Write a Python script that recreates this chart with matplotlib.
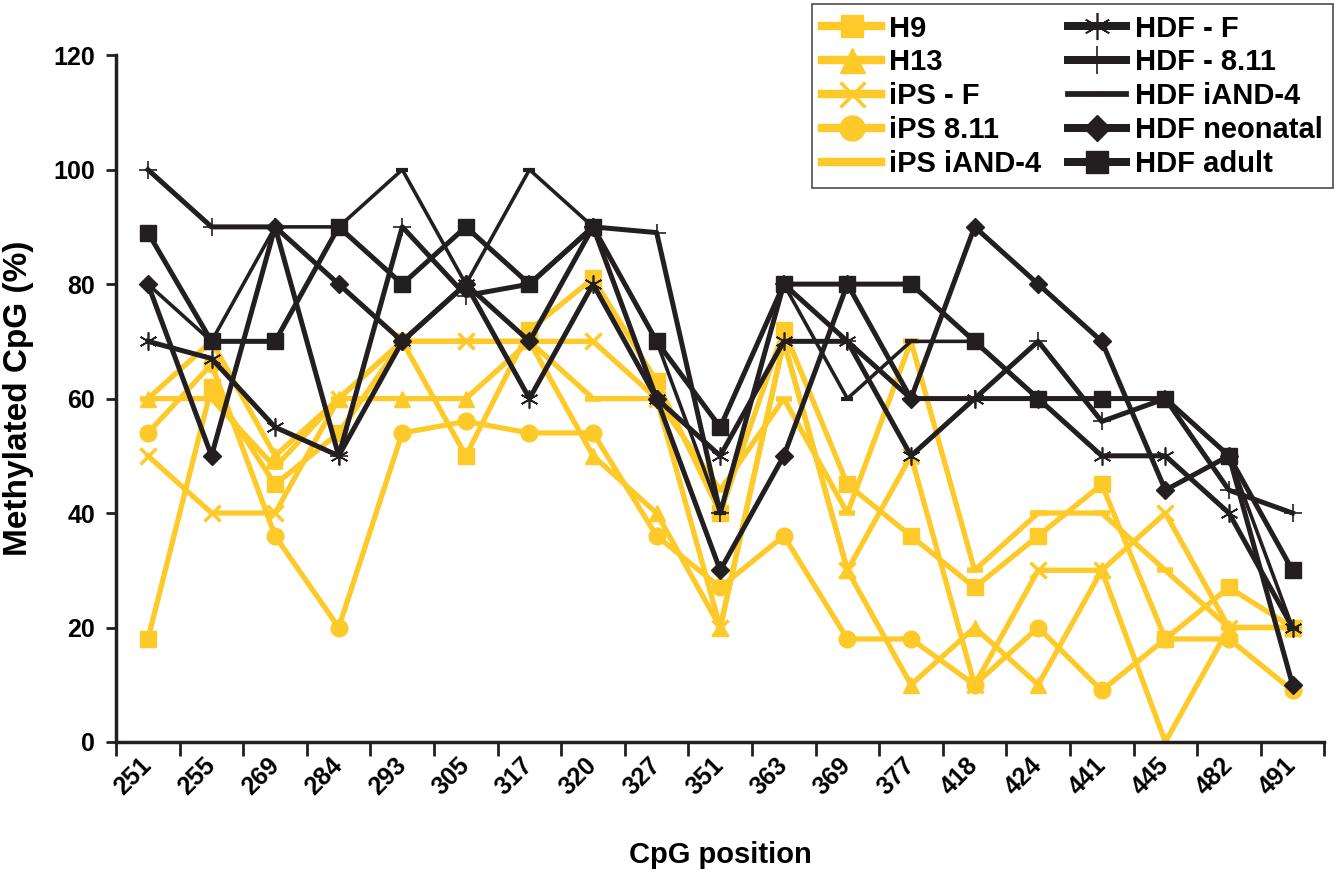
import matplotlib
matplotlib.use("Agg")
import matplotlib.pyplot as plt
from matplotlib.transforms import ScaledTranslation

plt.rcParams['font.family'] = ['Liberation Sans', 'DejaVu Sans']
plt.rcParams['font.weight'] = 'bold'

positions = ['251', '255', '269', '284', '293', '305', '317', '320', '327', '351',
             '363', '369', '377', '418', '424', '441', '445', '482', '491']

h9 = [18, 62, 45, 54, 70, 50, 72, 81, 63, 40, 72, 45, 36, 27, 36, 45, 18, 27, 20]
h13 = [60, 70, 50, 60, 60, 60, 70, 50, 40, 20, 70, 30, 10, 20, 10, 30, 0, 20, 20]
ips_f = [50, 40, 40, 60, 70, 70, 70, 70, 60, 20, 70, 30, 50, 10, 30, 30, 40, 20, 20]
ips_811 = [54, 66, 36, 20, 54, 56, 54, 54, 36, 27, 36, 18, 18, 10, 20, 9, 18, 18, 9]
ips_iand4 = [60, 60, 48, 60, 70, 70, 70, 60, 60, 44, 60, 40, 70, 30, 40, 40, 30, 20, 20]

hdf_f = [70, 67, 55, 50, 70, 80, 60, 80, 60, 50, 70, 70, 50, 60, 60, 50, 50, 40, 20]
hdf_811 = [100, 90, 90, 50, 90, 78, 80, 90, 89, 40, 80, 70, 60, 60, 70, 56, 60, 44, 40]
hdf_iand4 = [80, 70, 90, 90, 100, 80, 100, 90, 70, 40, 80, 60, 70, 70, 60, 60, 60, 50, 20]
hdf_neo = [80, 50, 90, 80, 70, 80, 70, 90, 60, 30, 50, 80, 60, 90, 80, 70, 44, 50, 10]
hdf_adult = [89, 70, 70, 90, 80, 90, 80, 90, 70, 55, 80, 80, 80, 70, 60, 60, 60, 50, 30]

YELLOW = '#FDCA2A'
BLACK = '#231F20'

fig = plt.figure(figsize=(13.35, 8.76), dpi=100)
ax = fig.add_axes([0.087, 0.153, 0.905, 0.784])

x = list(range(len(positions)))
asterisk = (6, 2, 0)

# yellow: stem cells / iPS
ax.plot(x, h9, color=YELLOW, lw=3.8, marker='s', ms=11, label='H9')
ax.plot(x, h13, color=YELLOW, lw=3.8, marker='^', ms=12, label='H13')
ax.plot(x, ips_f, color=YELLOW, lw=3.8, marker='x', ms=12, mew=2.5, label='iPS - F')
ax.plot(x, ips_811, color=YELLOW, lw=3.8, marker='o', ms=12, label='iPS 8.11')
ax.plot(x, ips_iand4, color=YELLOW, lw=3.8, marker='_', ms=12, mew=4, label='iPS iAND-4')

# black: fibroblasts
ax.plot(x, hdf_f, color=BLACK, lw=3.6, marker=asterisk, ms=13, mew=1.2, label='HDF - F')
ax.plot(x, hdf_811, color=BLACK, lw=3.6, marker='+', ms=13, mew=1.2, label='HDF - 8.11')
ax.plot(x, hdf_iand4, color=BLACK, lw=2.6, marker='_', ms=8, mew=3, label='HDF iAND-4')
ax.plot(x, hdf_neo, color=BLACK, lw=3.6, marker='D', ms=9, label='HDF neonatal')
ax.plot(x, hdf_adult, color=BLACK, lw=3.6, marker='s', ms=11, label='HDF adult')

ax.set_xlim(-0.5, 18.5)
ax.set_ylim(0, 120)
ax.set_yticks(range(0, 121, 20))
ax.set_xticks(x)
ax.set_xticklabels(positions, rotation=45, ha='right', va='center',
                   rotation_mode='anchor', fontsize=18, fontweight='bold')
shift = ScaledTranslation(12 / 100, 0, fig.dpi_scale_trans)
for lab in ax.get_xticklabels():
    lab.set_transform(lab.get_transform() + shift)
ax.set_xticks([i + 0.5 for i in range(-1, 19)], minor=True)
ax.tick_params(axis='x', which='major', length=0, pad=14)
ax.tick_params(axis='x', which='minor', length=10, width=2, direction='out', color=BLACK)
ax.tick_params(axis='y', length=7, width=2, direction='out', color=BLACK,
               labelsize=18, pad=8)
for lab in ax.get_yticklabels():
    lab.set_fontweight('bold')

for side in ['top', 'right']:
    ax.spines[side].set_visible(False)
for side in ['left', 'bottom']:
    ax.spines[side].set_linewidth(2.5)
    ax.spines[side].set_color(BLACK)

ax.set_xlabel('CpG position', fontsize=21, fontweight='bold', labelpad=30)
ax.set_ylabel('Methylated CpG (%)', fontsize=24, fontweight='bold', labelpad=14)

leg = fig.legend(loc='upper right', bbox_to_anchor=(0.9985, 0.995), ncol=2,
                 frameon=True, fancybox=False, edgecolor=BLACK,
                 handlelength=2.0, handletextpad=0.3, columnspacing=0.9,
                 labelspacing=0.2, borderpad=0.35, borderaxespad=0,
                 markerscale=1.5, prop={'weight': 'bold', 'size': 21})
leg.get_frame().set_linewidth(1.2)
for line in leg.get_lines():
    line.set_linewidth(line.get_linewidth() * 1.6)

fig.savefig('out.png', dpi=100)
